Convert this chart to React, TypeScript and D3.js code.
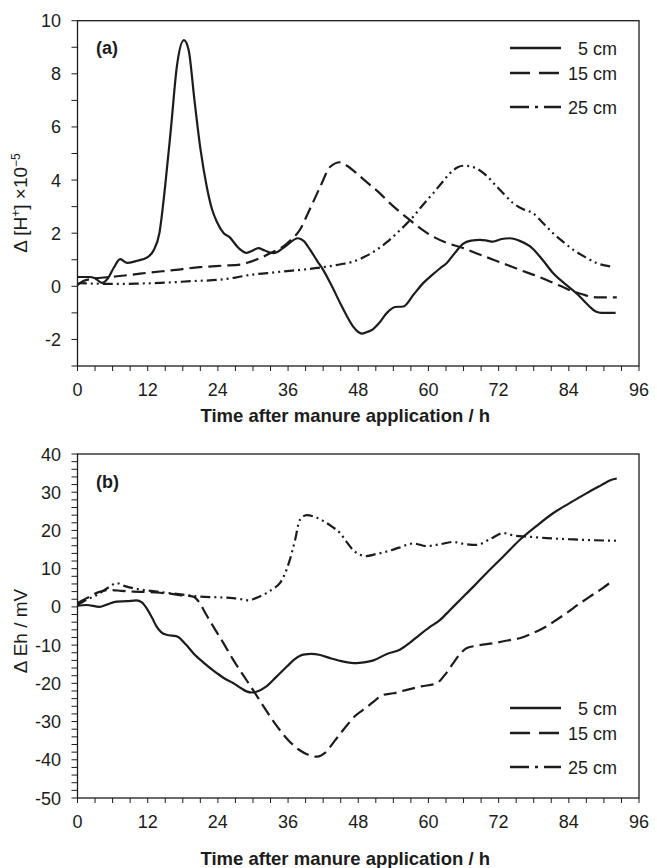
import React from "react";
import * as d3 from "d3";

// ---------- DATA ----------
const seriesNames = ["5 cm", "15 cm", "25 cm"];
const xTickLabels = [0, 12, 24, 36, 48, 60, 72, 84, 96];

// Panel (a): Δ[H+] ×10^-5
const a5cmT = [0, 2, 3, 4.2, 5.2, 6.2, 7.3, 8.5, 10, 12, 13, 14, 15, 16, 17, 18.2, 19, 20, 21, 22.1, 23, 23.8, 25, 26, 27.5, 28.9, 30, 30.9, 32, 33.5, 35.5, 37.7, 38.7, 39.7, 41, 42, 43.5, 44.9, 46, 47.1, 48, 48.6, 49.5, 50.5, 51.5, 52.9, 54.3, 55.7, 57.5, 59.1, 60.5, 62, 63.1, 64.5, 65.9, 67.3, 68.8, 70, 71, 72.5, 73.9, 75.5, 77.4, 79.5, 81.3, 83.3, 85.3, 87.5, 88.6, 89.6, 92];
const a5cmV = [0.35, 0.35, 0.3, 0.13, 0.3, 0.7, 1.02, 0.88, 0.95, 1.1, 1.35, 2.0, 3.8, 6.0, 8.3, 9.27, 8.9, 7.0, 5.2, 3.75, 2.9, 2.44, 2.0, 1.85, 1.45, 1.26, 1.35, 1.44, 1.35, 1.25, 1.5, 1.81, 1.7, 1.4, 0.95, 0.62, 0.0, -0.63, -1.1, -1.51, -1.72, -1.78, -1.72, -1.62, -1.4, -1.0, -0.78, -0.76, -0.3, 0.12, 0.4, 0.68, 0.87, 1.25, 1.6, 1.72, 1.75, 1.72, 1.68, 1.78, 1.81, 1.72, 1.5, 1.0, 0.5, 0.1, -0.26, -0.75, -0.95, -1.0, -1.0];

const a15cmT = [0, 1, 2.5, 5.5, 9, 12.4, 16, 20.9, 25, 27.8, 29.5, 31.2, 33, 35.2, 36.5, 38, 39.5, 41.5, 43.2, 44.9, 46, 48, 50, 51.7, 53.4, 55, 56.8, 58.8, 60.8, 63, 65.9, 68.5, 71.1, 73.5, 75.6, 78, 80.2, 82.5, 84.8, 86.3, 87.6, 89, 92.2];
const a15cmV = [0.05, 0.2, 0.28, 0.35, 0.43, 0.52, 0.6, 0.72, 0.78, 0.82, 0.92, 1.06, 1.25, 1.5, 1.75, 2.12, 2.8, 3.75, 4.5, 4.67, 4.55, 4.2, 3.82, 3.5, 3.13, 2.82, 2.5, 2.15, 1.87, 1.65, 1.44, 1.22, 1.0, 0.8, 0.62, 0.43, 0.24, 0.02, -0.2, -0.3, -0.38, -0.42, -0.42];

const a25cmT = [0, 0.4, 3, 6.7, 10, 15.2, 20, 23.8, 27, 29.5, 32.5, 35.2, 39, 42.6, 45, 47.1, 49, 51.1, 53, 54.6, 56, 57.4, 59, 60.8, 62.3, 63.7, 65, 65.9, 67, 68.2, 70, 71.7, 73, 74.5, 76.2, 77.9, 79.5, 81.3, 83, 84.8, 86.8, 88.8, 91.3];
const a25cmV = [0.05, 0.12, 0.1, 0.09, 0.1, 0.14, 0.2, 0.24, 0.33, 0.43, 0.5, 0.56, 0.64, 0.74, 0.83, 0.93, 1.1, 1.37, 1.68, 2.0, 2.3, 2.62, 3.05, 3.5, 3.9, 4.26, 4.48, 4.54, 4.52, 4.44, 4.15, 3.75, 3.45, 3.13, 2.9, 2.75, 2.4, 2.0, 1.68, 1.37, 1.1, 0.87, 0.74];

// Panel (b): ΔEh / mV
const b5cmT = [0, 1.5, 3.8, 5, 6.7, 8.5, 10.1, 11, 11.8, 12.8, 13.5, 14.3, 15.2, 17, 18.5, 19.8, 21.5, 23.8, 25.2, 26.6, 28, 28.9, 29.8, 30.6, 32.3, 34, 35.8, 37.2, 38.6, 40, 41.5, 43.2, 45.5, 47.7, 49, 50.6, 52.9, 55.1, 56.8, 58.5, 60.2, 62, 63.7, 65.4, 67.7, 69.9, 72.8, 75.6, 78.5, 81.3, 84.2, 87, 89.5, 91.2, 92.2];
const b5cmV = [0.3, 0.5, 0, 0.6, 1.4, 1.5, 1.7, 1.2, -0.3, -3.0, -5.1, -6.6, -7.3, -7.7, -9.8, -12.1, -14.5, -17.3, -18.8, -19.9, -21.3, -22.1, -22.4, -22.2, -20.8, -18.3, -15.6, -13.6, -12.5, -12.3, -12.6, -13.4, -14.3, -14.7, -14.5, -14.0, -12.3, -11.2, -9.4, -7.3, -5.3, -3.4, -0.8, 1.8, 5.3, 8.8, 13.2, 17.5, 21.2, 24.5, 27.2, 29.7, 31.8, 33.2, 33.6];

const b15cmT = [0, 1, 2.1, 3.5, 5.6, 7.5, 9.5, 12, 14.1, 15.5, 17.5, 19.8, 20.9, 22, 23.2, 25, 26.6, 28.3, 30, 32, 34, 36, 38, 40, 41, 42.3, 44, 45.8, 47.5, 49.5, 51, 52.3, 54, 56.3, 58.8, 61.4, 62.8, 64.2, 65.3, 66.5, 68.5, 71.1, 73.5, 75.6, 77.5, 79.1, 81.5, 83.6, 85.6, 87.6, 89.5, 91.3];
const b15cmV = [1.0, 1.8, 2.7, 3.8, 4.4, 4.2, 4.0, 3.9, 3.7, 3.5, 3.1, 2.7, 1.0, -2.0, -5.1, -9.6, -13.8, -17.8, -21.7, -26.5, -31.0, -34.8, -37.5, -39.0, -39.2, -38.2, -35.0, -31.5, -28.5, -26.2, -24.3, -23.0, -22.6, -21.7, -20.8, -20.0, -17.8, -14.8, -12.5, -10.8, -10.1, -9.5, -8.8, -8.2, -7.1, -6.0, -3.8, -1.6, 0.6, 2.7, 4.6, 6.6];

const b25cmT = [0, 1.5, 3.3, 5, 6.7, 8, 9.5, 12, 15.2, 18, 20.9, 24, 26.6, 28, 29.2, 30.5, 32.3, 33.5, 34.6, 35.5, 36.3, 37.2, 38, 39.2, 40.5, 42, 43.5, 44.9, 46, 47.1, 48.2, 49.4, 51, 52.9, 55, 57.4, 59.7, 62, 64.2, 66, 68.2, 70.5, 72.8, 74.8, 76.8, 80.2, 84, 87, 92.2];
const b25cmV = [0.5, 1.8, 3.1, 4.8, 6.2, 5.5, 4.9, 4.3, 3.7, 3.2, 2.7, 2.5, 2.3, 2.0, 1.7, 2.3, 3.6, 4.8, 6.2, 8.8, 12.3, 17.5, 22.7, 24.0, 23.6, 22.5, 21.0, 19.3, 17.0, 14.9, 13.7, 13.3, 13.8, 14.5, 15.5, 16.6, 15.9, 16.4, 17.0, 16.5, 16.2, 17.7, 19.3, 18.6, 18.4, 18.0, 17.7, 17.5, 17.3];

const aYTickLabels = [-2, 0, 2, 4, 6, 8, 10];
const bYTickLabels = [-50, -40, -30, -20, -10, 0, 10, 20, 30, 40];

// ---------- STYLE ----------
const FONT = "'Liberation Sans', Arial, Helvetica, sans-serif";
const INK = "#1c1c1c";
const dashes = ["none", "13,6", "10,4,2,4,2,4"];
const legendDashes = ["none", "20,9", "19,6,3,6"];

type Series = { t: number[]; v: number[] };

type PanelProps = {
  top: number;
  bottom: number;
  yMin: number;
  yMax: number;
  yTicks: number[];
  yMinorStep: number;
  series: Series[];
  tag: string;
  tagY: number;
  yTitle: React.ReactNode;
  yTitleY: number;
  legendY: number[];
  tickLabelY: number;
  titleY: number;
};

const LEFT = 77.5;
const RIGHT = 639;

function Panel(p: PanelProps) {
  const x = d3.scaleLinear().domain([0, 96]).range([LEFT, RIGHT]);
  const y = d3.scaleLinear().domain([p.yMin, p.yMax]).range([p.bottom, p.top]);
  const line = d3
    .line<[number, number]>()
    .x((d) => x(d[0]))
    .y((d) => y(d[1]))
    .curve(d3.curveMonotoneX);
  const minorY = d3.range(p.yMin, p.yMax + 0.001, p.yMinorStep);
  const minorX = d3.range(0, 96.001, 3);
  return (
    <g>
      {/* frame */}
      <rect
        x={LEFT}
        y={p.top}
        width={RIGHT - LEFT}
        height={p.bottom - p.top}
        fill="none"
        stroke={INK}
        strokeWidth={1.3}
      />
      {/* y ticks */}
      {minorY.map((v) => (
        <line key={"y" + v} x1={LEFT - 6} x2={LEFT} y1={y(v)} y2={y(v)} stroke={INK} strokeWidth={1} />
      ))}
      {p.yTicks.map((v) => (
        <text key={"yl" + v} x={61} y={y(v) + 6.5} textAnchor="end" fontSize={18} fontFamily={FONT} fill={INK}>
          {v}
        </text>
      ))}
      {/* x ticks */}
      {minorX.map((v) => (
        <line key={"x" + v} x1={x(v)} x2={x(v)} y1={p.bottom} y2={p.bottom + 5} stroke={INK} strokeWidth={1} />
      ))}
      {xTickLabels.map((v) => (
        <text key={"xl" + v} x={x(v)} y={p.tickLabelY} textAnchor="middle" fontSize={18} fontFamily={FONT} fill={INK}>
          {v}
        </text>
      ))}
      {/* series */}
      {p.series.map((s, i) => (
        <path
          key={"s" + i}
          d={line(s.t.map((t, j) => [t, s.v[j]] as [number, number])) || ""}
          fill="none"
          stroke={INK}
          strokeWidth={2.2}
          strokeDasharray={dashes[i]}
          strokeLinejoin="round"
        />
      ))}
      {/* legend */}
      {seriesNames.map((n, i) => (
        <g key={"lg" + i}>
          <line
            x1={510}
            x2={561}
            y1={p.legendY[i]}
            y2={p.legendY[i]}
            stroke={INK}
            strokeWidth={2.4}
            strokeDasharray={legendDashes[i]}
          />
          <text x={617} y={p.legendY[i] + 6.5} textAnchor="end" fontSize={18} fontFamily={FONT} fill={INK}>
            {n}
          </text>
        </g>
      ))}
      {/* tag */}
      <text x={96} y={p.tagY} fontSize={18} fontWeight="bold" fontFamily={FONT} fill={INK}>
        {p.tag}
      </text>
      {/* axis titles */}
      <text
        x={(LEFT + RIGHT) / 2 - 13}
        y={p.titleY}
        textAnchor="middle"
        fontSize={18.5}
        fontWeight="bold"
        fontFamily={FONT}
        fill={INK}
      >
        Time after manure application / h
      </text>
      <text
        transform={`translate(27,${p.yTitleY}) rotate(-90)`}
        textAnchor="middle"
        fontSize={19}
        fontFamily={FONT}
        fill={INK}
      >
        {p.yTitle}
      </text>
    </g>
  );
}

export default function App() {
  return (
    <svg
      width={657}
      height={868}
      style={{ position: "absolute", left: 0, top: 0, background: "#fff" }}
    >
      <rect x={0} y={0} width={657} height={868} fill="#fff" />
      <Panel
        top={20.7}
        bottom={366}
        yMin={-3}
        yMax={10}
        yTicks={aYTickLabels}
        yMinorStep={1}
        series={[
          { t: a5cmT, v: a5cmV },
          { t: a15cmT, v: a15cmV },
          { t: a25cmT, v: a25cmV },
        ]}
        tag="(a)"
        tagY={54}
        yTitle={
          <>
            Δ [H
            <tspan dy={-7} fontSize={12}>+</tspan>
            <tspan dy={7}>] ×10</tspan>
            <tspan dy={-7} fontSize={12}>−5</tspan>
          </>
        }
        yTitleY={203}
        legendY={[48, 73, 107]}
        tickLabelY={395.5}
        titleY={422}
      />
      <Panel
        top={454}
        bottom={798}
        yMin={-50}
        yMax={40}
        yTicks={bYTickLabels}
        yMinorStep={2}
        series={[
          { t: b5cmT, v: b5cmV },
          { t: b15cmT, v: b15cmV },
          { t: b25cmT, v: b25cmV },
        ]}
        tag="(b)"
        tagY={488}
        yTitle={<>Δ Eh / mV</>}
        yTitleY={631}
        legendY={[708, 733, 767]}
        tickLabelY={828}
        titleY={865}
      />
    </svg>
  );
}
